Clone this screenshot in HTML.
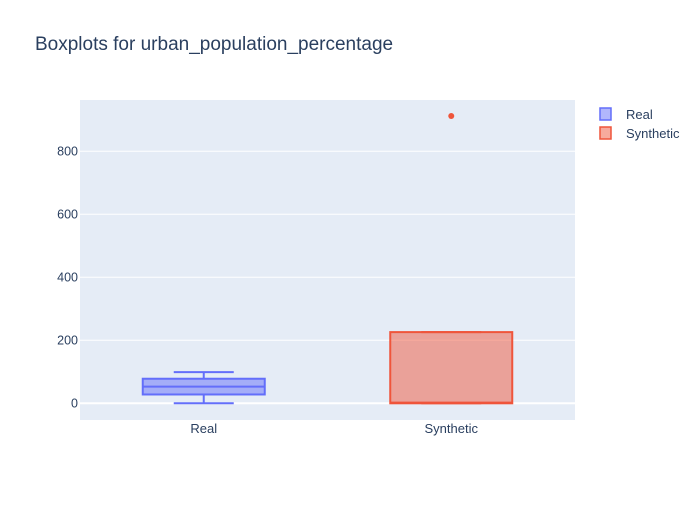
<!DOCTYPE html>
<html><head><meta charset="utf-8"><style>
body{margin:0;background:#fff;font-family:"Liberation Sans",Arial,sans-serif}
svg text{font-family:"Liberation Sans",Arial,sans-serif}
</style></head><body>
<svg id="chart" width="700" height="500">
<rect x="0" y="0" width="700" height="500" fill="#fff"/>
<text x="35" y="50" font-size="19" fill="#2a3f5f">Boxplots for urban_population_percentage</text>
<rect x="80" y="100" width="495" height="320" fill="#e5ecf6"/>
<g id="grid"></g><g id="boxes"></g>
<g>
<g><rect x="600" y="108" width="11" height="12" fill="rgba(99,110,250,0.5)" stroke="#636efa" stroke-width="1.5"/><text x="626" y="119" font-size="13" fill="#2a3f5f">Real</text></g>
<g><rect x="600" y="127" width="11" height="12" fill="rgba(239,85,59,0.5)" stroke="#ef553b" stroke-width="1.5"/><text x="626" y="138" font-size="13" fill="#2a3f5f">Synthetic</text></g>
</g>
</svg>
<script>
const categories=["Real","Synthetic"];
const mins=[0,0];
const q1s=[28,0];
const medians=[53,2];
const q3s=[78,226];
const maxs=[99,226];
const outliers=[[],[912]];
const yTicks=[0,200,400,600,800];
const colors=["#636efa","#ef553b"];
const fills=["rgba(99,110,250,0.5)","rgba(239,85,59,0.5)"];
const NS="http://www.w3.org/2000/svg";
const y=v=>403.3-v*0.315;
const xc=i=>80+495*(i+0.5)/categories.length;
const grid=document.getElementById('grid');
function mk(tag,attrs,parent){const e=document.createElementNS(NS,tag);for(const k in attrs)e.setAttribute(k,attrs[k]);parent.appendChild(e);return e;}
yTicks.forEach(t=>{
 const l=mk('line',{x1:80,x2:575,y1:y(t),y2:y(t),stroke:'#fff','stroke-width':t===0?2:1},grid);
 
 
 const tx=mk('text',{x:78,y:y(t)+4,'text-anchor':'end','font-size':12.5,fill:'#2a3f5f'},grid);tx.textContent=t;
 
 
});
const boxes=document.getElementById('boxes');
categories.forEach((c,i)=>{
 const g=mk('g',{},boxes);
 
 
 const cx=xc(i),hw=61,ww=30,col=colors[i];
 mk('line',{x1:cx,x2:cx,y1:y(q3s[i]),y2:y(maxs[i]),stroke:col,'stroke-width':2},g);
 mk('line',{x1:cx,x2:cx,y1:y(q1s[i]),y2:y(mins[i]),stroke:col,'stroke-width':2},g);
 mk('line',{x1:cx-ww,x2:cx+ww,y1:y(maxs[i]),y2:y(maxs[i]),stroke:col,'stroke-width':2},g);
 mk('line',{x1:cx-ww,x2:cx+ww,y1:y(mins[i]),y2:y(mins[i]),stroke:col,'stroke-width':2},g);
 mk('rect',{x:cx-hw,y:y(q3s[i]),width:2*hw,height:y(q1s[i])-y(q3s[i]),fill:fills[i],stroke:col,'stroke-width':2},g);
 mk('line',{x1:cx-hw,x2:cx+hw,y1:y(medians[i]),y2:y(medians[i]),stroke:col,'stroke-width':2},g);
 outliers[i].forEach(o=>{
  const p=mk('circle',{cx:cx,cy:y(o),r:3,fill:col},g);
  
  
 });
 const t=mk('text',{x:cx,y:433,'text-anchor':'middle','font-size':13,fill:'#2a3f5f'},boxes);t.textContent=c;
 
 
});
</script>
</body></html>
